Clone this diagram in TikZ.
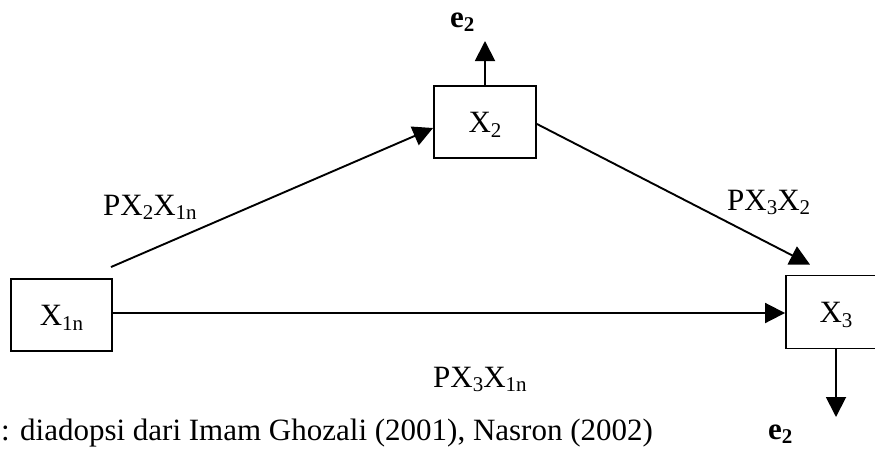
\documentclass[tikz,border=0pt]{standalone}
\usepackage{fontspec}
\setmainfont{Liberation Serif}
\usetikzlibrary{arrows.meta}
\newcommand\sbs[1]{\raisebox{-0.16em}{\fontsize{21}{21}\selectfont #1}}
\begin{document}
\begin{tikzpicture}[x=1pt,y=-1pt,
  box/.style={draw,line width=1.9pt,minimum width=#1,minimum height=72pt,inner sep=0pt,
              text height=21pt,text depth=0pt,font=\fontsize{31}{36}\selectfont},
  box/.default=101pt,
  arr/.style={line width=1.9pt,-{Triangle[length=20pt,width=20pt]}},
  lbl/.style={inner sep=0pt,anchor=base west,font=\fontsize{31}{36}\selectfont},
  elbl/.style={inner sep=0pt,anchor=base west,font=\fontsize{31}{36}\selectfont\bfseries}]
\useasboundingbox (0,0) rectangle (875,450);
\node[box=101pt] (x1) at (61.5,315) {X\sbs{1n}};
\node[box=102pt] (x2) at (485,122) {X\sbs{2}};
\node[box=100pt,minimum height=73pt] (x3) at (836,312) {X\sbs{3}};
\coordinate (e2a) at (485,41);
\coordinate (e2b) at (836,417);
\draw[arr] ([xshift=-2pt,yshift=11pt]x1.north east) -- ([yshift=-6pt]x2.west);
\draw[arr] ([yshift=-2pt]x2.east) -- ([xshift=-26pt,yshift=10pt]x3.north);
\draw[arr] ([yshift=2pt]x1.east) -- ([yshift=-1pt]x3.west);
\draw[arr] (x2.north) -- (e2a);
\draw[arr] (x3.south) -- (e2b);
\node[elbl] (ea) at (450,27) {e\sbs{2}};
\node[elbl] (eb) at (768,439) {e\sbs{2}};
\node[lbl] (l1) at (103,215) {PX\sbs{2}X\sbs{1n}};
\node[lbl] (l2) at (727,210) {PX\sbs{3}X\sbs{2}};
\node[lbl] (l3) at (433,387) {PX\sbs{3}X\sbs{1n}};
\node[lbl] (src) at (1,440) {: diadopsi dari Imam Ghozali (2001), Nasron (2002)};
\end{tikzpicture}
\end{document}
